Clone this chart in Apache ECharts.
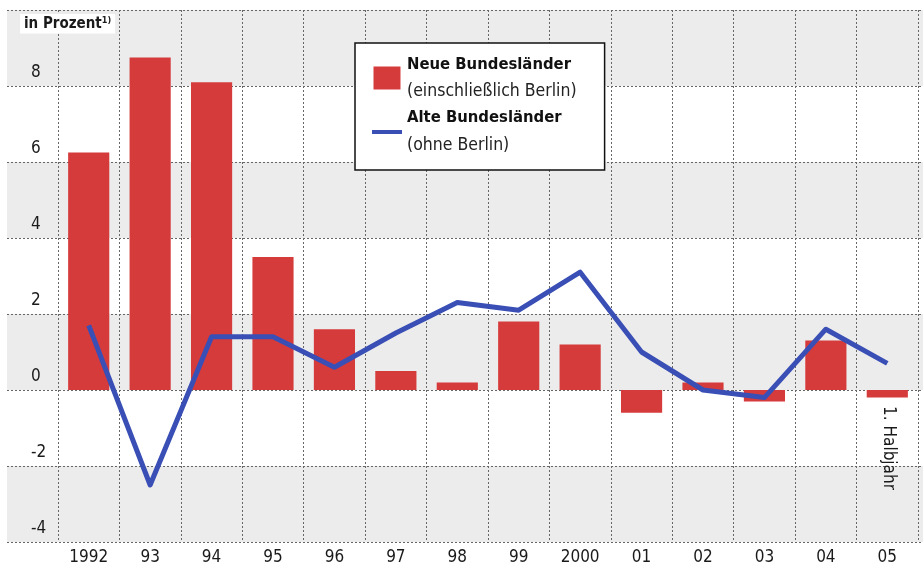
<!DOCTYPE html>
<html>
<head>
<meta charset="utf-8">
<script src="https://cdn.jsdelivr.net/npm/echarts@6/dist/echarts.min.js"></script>
<style>
  html, body { margin: 0; padding: 0; background: #fff; }
  #chart { width: 923px; height: 570px; }
</style>
</head>
<body>
<div id="chart"></div>
<script>
var years = ['1992', '93', '94', '95', '96', '97', '98', '99', '2000', '01', '02', '03', '04', '05'];
var neue = [6.25, 8.75, 8.1, 3.5, 1.6, 0.5, 0.2, 1.8, 1.2, -0.6, 0.2, -0.3, 1.3, -0.2];
var alte = [1.7, -2.5, 1.4, 1.4, 0.6, 1.5, 2.3, 2.1, 3.1, 1.0, 0.0, -0.2, 1.6, 0.7];
var yTicks = [-4, -2, 0, 2, 4, 6, 8];
var subText = {
  'Neue Bundesländer': '(einschließlich Berlin)',
  'Alte Bundesländer': '(ohne Berlin)'
};

var FONT = "'DejaVu Sans Condensed', 'DejaVu Sans', sans-serif";
var grid = '#666';

var option = {
  backgroundColor: '#fff',
  animation: false,
  title: {
    text: 'in Prozent{sup|1)}',
    left: 20, top: 14,
    padding: [2, 4, 2, 4],
    backgroundColor: '#fff',
    textStyle: {
      fontFamily: FONT, fontSize: 15, fontWeight: 'bold', color: '#1a1a1a',
      rich: { sup: { fontFamily: FONT, fontSize: 9, fontWeight: 'bold', color: '#1a1a1a', verticalAlign: 'top', padding: [0, 0, 7, 0] } }
    }
  },
  legend: {
    orient: 'vertical',
    left: 355, top: 43,
    padding: [13, 28, 16, 17],
    backgroundColor: '#fff',
    borderColor: '#111',
    borderWidth: 1.5,
    itemWidth: 30, itemHeight: 23, itemGap: 9,
    data: [
      { name: 'Neue Bundesländer', icon: 'path://M1.5,0 L28.5,0 L28.5,23 L1.5,23 Z M0,0 M30,23' },
      { name: 'Alte Bundesländer', icon: 'path://M0,10 L30,10 L30,14 L0,14 Z M0,0 M30,23' }
    ],
    formatter: function (name) {
      return '{b|' + name + '}\n{n|' + subText[name] + '}';
    },
    textStyle: {
      rich: {
        b: { fontFamily: FONT, fontSize: 16.5, fontWeight: 'bold', color: '#111', lineHeight: 27 },
        n: { fontFamily: FONT, fontSize: 17.5, color: '#222', lineHeight: 27 }
      }
    }
  },
  grid: [
    { left: 7, right: 0, top: 10, bottom: 28 },
    { left: 58, right: 5, top: 10, bottom: 28 }
  ],
  xAxis: [
    { gridIndex: 0, type: 'value', min: 0, max: 1, show: false },
    {
      gridIndex: 1, type: 'category', data: years, z: 1,
      axisLine: { show: false }, axisTick: { show: false },
      axisLabel: { margin: 7, fontFamily: FONT, fontSize: 17, color: '#1a1a1a' },
      splitLine: { show: true, interval: 0, lineStyle: { color: grid, type: [2, 2], width: 1 } }
    }
  ],
  yAxis: [
    {
      gridIndex: 0, type: 'value', min: -4, max: 10, interval: 2, z: 0,
      axisLine: { show: false }, axisTick: { show: false }, axisLabel: { show: false },
      splitLine: { show: true, lineStyle: { color: grid, type: [2, 2], width: 1 } },
      splitArea: { show: true, areaStyle: { color: ['#ececec', '#ffffff'] } }
    },
    {
      gridIndex: 1, type: 'value', min: -4, max: 10, interval: 2, z: 1,
      axisLine: { show: false }, axisTick: { show: false },
      splitLine: { show: false },
      axisLabel: {
        align: 'left', margin: 27, verticalAlign: 'bottom', padding: [0, 0, 5, 0],
        fontFamily: FONT, fontSize: 17, color: '#1a1a1a',
        formatter: function (v) { return yTicks.indexOf(v) >= 0 ? String(v) : ''; }
      }
    }
  ],
  graphic: [
    {
      type: 'text', x: 888, y: 448, rotation: -Math.PI / 2, z: 10,
      style: { text: '1. Halbjahr', font: '17px ' + FONT, fill: '#1a1a1a', align: 'center', verticalAlign: 'middle' }
    }
  ],
  series: [
    {
      name: 'Neue Bundesländer', type: 'bar', xAxisIndex: 1, yAxisIndex: 1,
      data: neue, barCategoryGap: '33%', z: 2,
      itemStyle: { color: '#d63b3c' }
    },
    {
      name: 'Alte Bundesländer', type: 'line', xAxisIndex: 1, yAxisIndex: 1,
      data: alte, symbol: 'none', z: 3,
      itemStyle: { color: '#3a4fb5' },
      lineStyle: { color: '#3a4fb5', width: 5, join: 'round' }
    }
  ]
};

var myChart = echarts.init(document.getElementById('chart'));
myChart.setOption(option);
</script>
</body>
</html>
